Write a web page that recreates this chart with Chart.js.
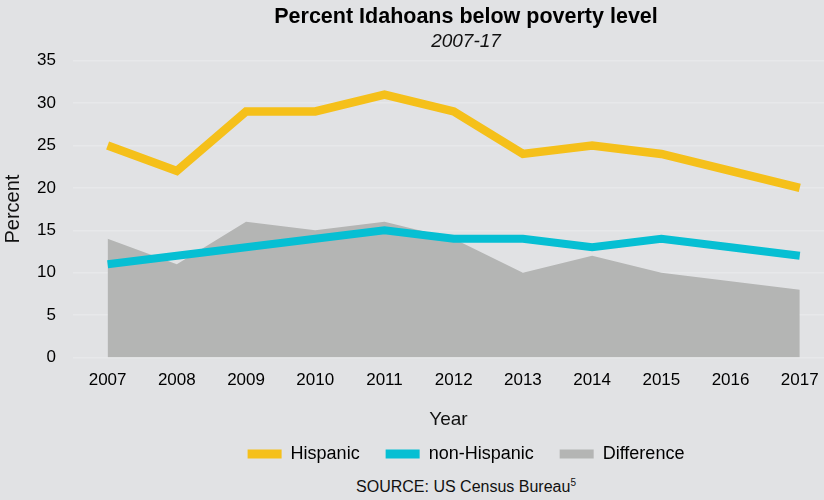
<!DOCTYPE html>
<html>
<head>
<meta charset="utf-8">
<script src="https://cdn.jsdelivr.net/npm/chart.js@4.4.1/dist/chart.umd.min.js"></script>
<style>
  html, body { margin: 0; padding: 0; background: #e1e2e4; overflow: hidden; }
  #wrap { position: relative; width: 824px; height: 500px; overflow: hidden; }
  #myChart { position: absolute; left: 0; top: 0; }
  #source {
    position: absolute; left: 0; top: 477px; width: 932px; text-align: center;
    font: 16px "Liberation Sans", Arial, sans-serif; color: #111;
  }
  #source sup { font-size: 10px; }
</style>
</head>
<body>
<div id="wrap">
  <canvas id="myChart" width="932" height="473" style="width:932px;height:473px"></canvas>
  <div id="source">SOURCE: US Census Bureau<sup>5</sup></div>
</div>
<script>
const years = [2007, 2008, 2009, 2010, 2011, 2012, 2013, 2014, 2015, 2016, 2017];
const hispanic = [25, 22, 29, 29, 31, 29, 24, 25, 24, 22, 20];
const nonHispanic = [11, 12, 13, 14, 15, 14, 14, 13, 14, 13, 12];
const difference = [14, 11, 16, 15, 16, 14, 10, 12, 10, 9, 8];
const yTicks = [0, 5, 10, 15, 20, 25, 30, 35];

const pts = vals => vals.map((v, i) => ({ x: years[i], y: v }));
const font = "'Liberation Sans', Arial, sans-serif";

const ctx = document.getElementById("myChart");

new Chart(ctx, {
    type: 'line',
    data: {
        datasets: [
            {
                label: 'Hispanic',
                data: pts(hispanic),
                borderColor: '#f5c01a',
                backgroundColor: '#f5c01a',
                borderWidth: 8.5,
                pointRadius: 0,
                fill: false,
                tension: 0
            },
            {
                label: 'non-Hispanic',
                data: pts(nonHispanic),
                borderColor: '#06bfd3',
                backgroundColor: '#06bfd3',
                borderWidth: 8,
                pointRadius: 0,
                fill: false,
                tension: 0
            },
            {
                label: 'Difference',
                data: pts(difference),
                borderColor: '#b4b5b4',
                backgroundColor: '#b4b5b4',
                borderWidth: 0,
                pointRadius: 0,
                fill: 'origin',
                tension: 0
            }
        ]
    },
    options: {
        responsive: false,
        animation: false,
        events: [],
        layout: { padding: 0 },
        plugins: {
            title: {
                display: true,
                text: 'Percent Idahoans below poverty level',
                color: '#000',
                font: { family: font, size: 21.5, weight: 'bold' },
                padding: { top: 4, bottom: 0 }
            },
            subtitle: {
                display: true,
                text: '2007-17',
                color: '#111',
                font: { family: font, size: 19, style: 'italic' },
                padding: { top: 1, bottom: 7 }
            },
            legend: {
                position: 'bottom',
                labels: {
                    boxWidth: 34,
                    boxHeight: 9,
                    padding: 26,
                    color: '#000',
                    font: { family: font, size: 18 },
                    generateLabels: chart => Chart.defaults.plugins.legend.labels.generateLabels(chart)
                        .map(l => ({ ...l, lineWidth: 0 }))
                }
            },
            tooltip: { enabled: false }
        },
        scales: {
            x: {
                type: 'linear',
                min: 2006.5,
                max: 2017.35,
                afterBuildTicks: scale => { scale.ticks = years.map(v => ({ value: v })); },
                afterFit: scale => { scale.height = 61.5; },
                grid: { display: false, drawTicks: false },
                border: { display: false },
                ticks: {
                    padding: 13,
                    color: '#000',
                    font: { family: font, size: 17 },
                    callback: v => String(v)
                },
                title: {
                    display: true,
                    text: 'Year',
                    color: '#111',
                    font: { family: font, size: 19 },
                    padding: { top: 0, bottom: -12 }
                }
            },
            y: {
                min: 0,
                max: 35,
                afterBuildTicks: scale => { scale.ticks = yTicks.map(v => ({ value: v })); },
                afterFit: scale => { scale.width = 73; },
                grid: { color: '#e7e8ea', lineWidth: 1.5, drawTicks: false },
                border: { display: false },
                ticks: {
                    padding: 17,
                    color: '#000',
                    font: { family: font, size: 17 }
                },
                title: {
                    display: true,
                    text: 'Percent',
                    color: '#111',
                    font: { family: font, size: 20 },
                    padding: { top: 1.5, bottom: 0 }
                }
            },
            // empty right-hand axis, lies outside the visible 824px and only
            // keeps the title and legend centred where the original has them
            spacer: {
                type: 'linear',
                position: 'right',
                display: true,
                afterFit: scale => { scale.width = 108; },
                grid: { drawOnChartArea: false, drawTicks: false },
                border: { display: false },
                ticks: { display: false }
            }
        }
    }
});
</script>
</body>
</html>
